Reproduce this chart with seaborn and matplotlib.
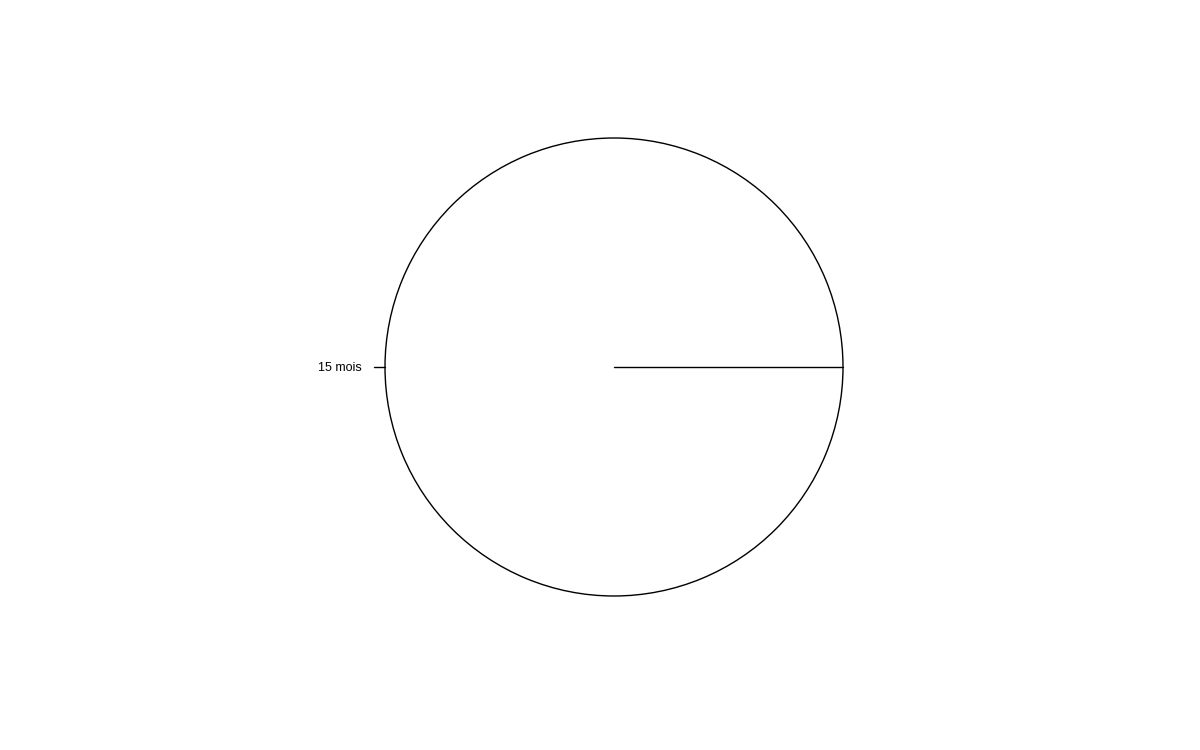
import numpy as np
import matplotlib
matplotlib.use("Agg")
import matplotlib.pyplot as plt
import seaborn as sns

labels = ["15 mois"]
values = [1]

sns.set_style("white")
plt.rcParams['font.family'] = ['Liberation Sans', 'DejaVu Sans']

fig = plt.figure(figsize=(12, 7.5), dpi=100)
ax = fig.add_axes([0, 0, 1, 1])
cx, cy, r = 614, 367, 229

ax.pie(values, startangle=0, counterclock=True, colors=['white'],
       wedgeprops=dict(edgecolor='black', linewidth=1.0), radius=1,
       frame=True)
ax.set_xlim((0 - cx) / r, (1200 - cx) / r)
ax.set_ylim(-(750 - cy) / r, cy / r)
ax.set_aspect('equal')
ax.axis('off')

total = float(sum(values))
start = 0.0
for lab, v in zip(labels, values):
    a0 = 2 * np.pi * start
    ax.plot([0, np.cos(a0)], [0, np.sin(a0)], color='black', lw=1.0)
    mid = 2 * np.pi * (start + v / total / 2)
    start += v / total
    c, s = np.cos(mid), np.sin(mid)
    ax.plot([c, 1.05 * c], [s, 1.05 * s], color='black', lw=1.0)
    ax.text(1.1 * c, 1.1 * s, lab, ha='right' if c < 0 else 'left',
            va='center_baseline', fontsize=9, color='black')

fig.savefig("out.png", dpi=100, facecolor='white')
